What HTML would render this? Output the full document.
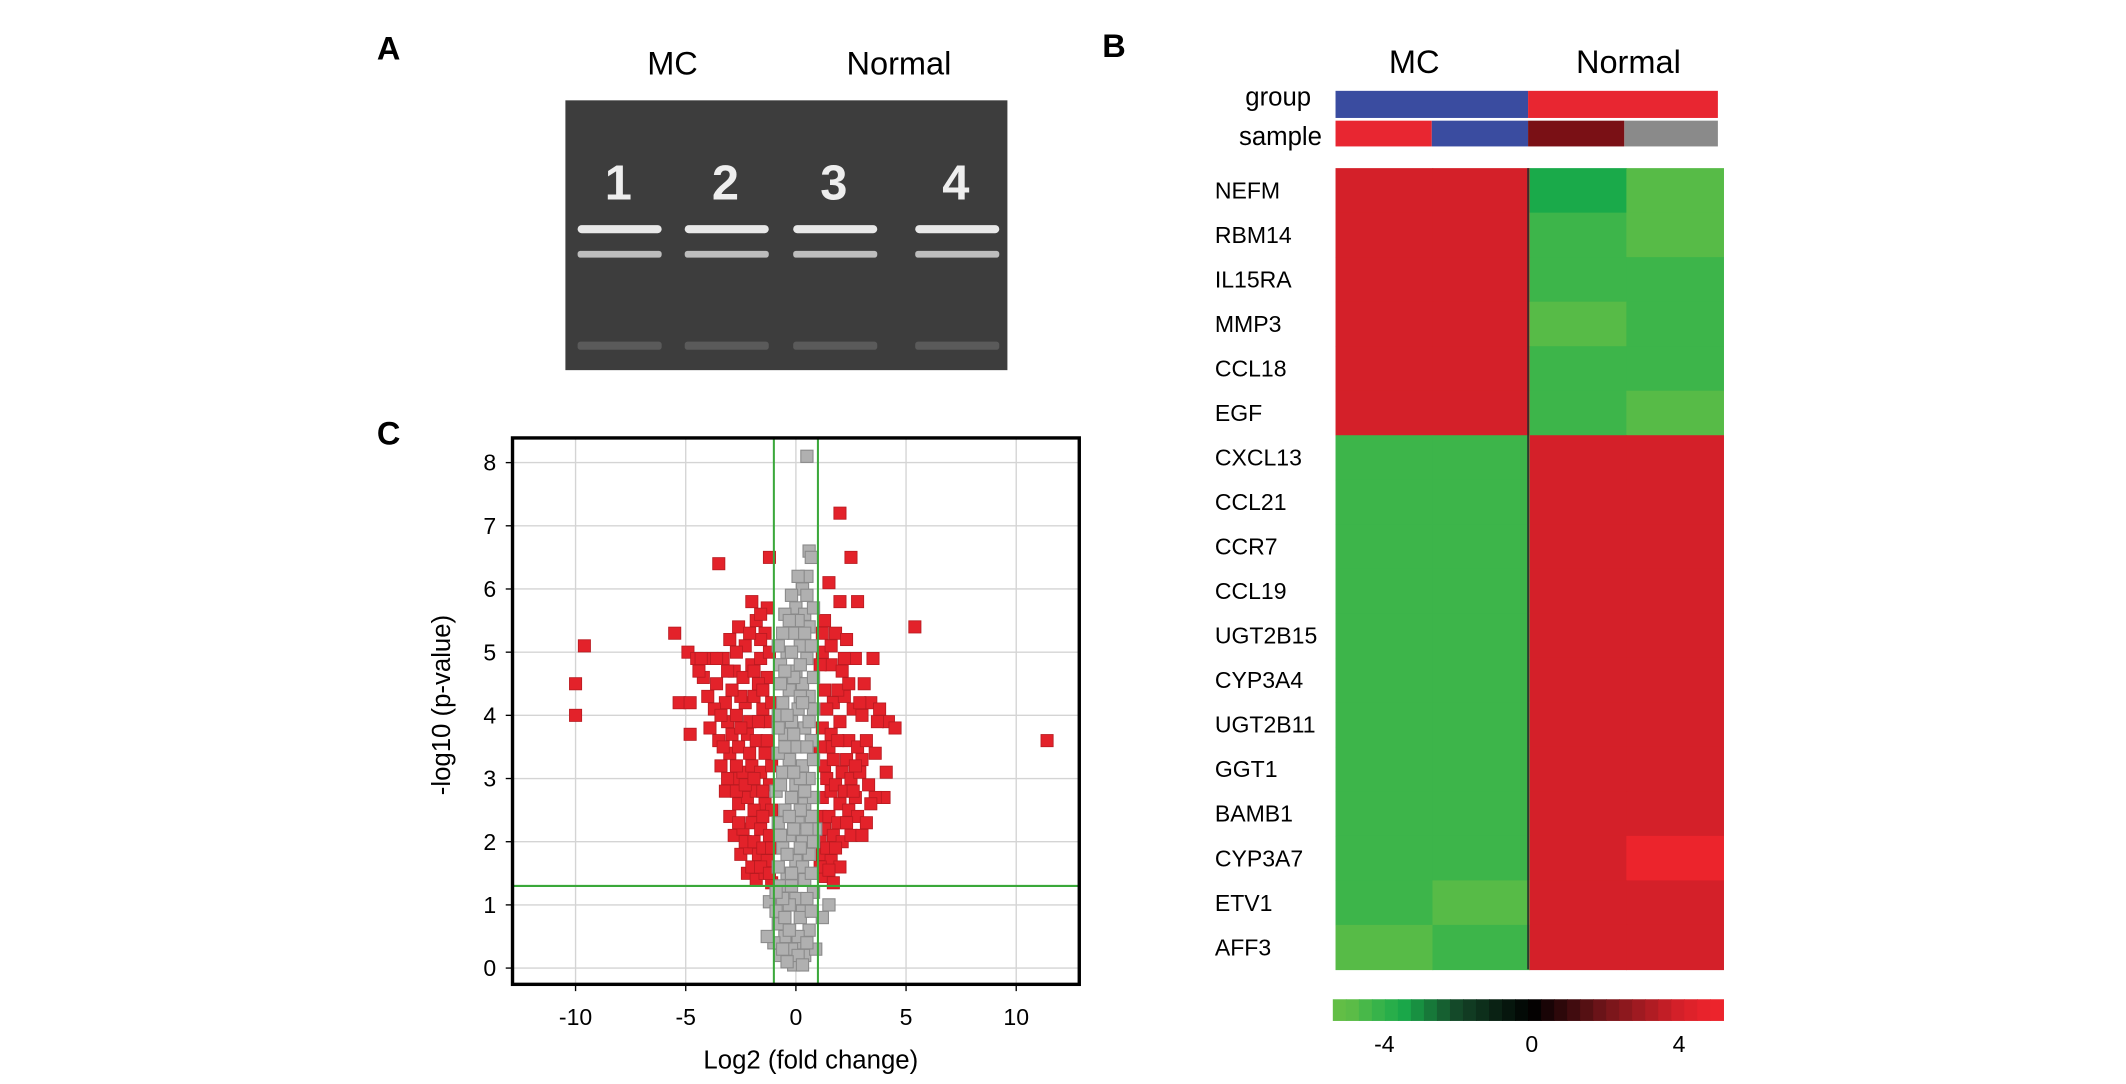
<!DOCTYPE html>
<html><head><meta charset="utf-8"><style>
html,body{margin:0;padding:0;background:#fff;}
svg{display:block;}
text{font-family:"Liberation Sans",sans-serif;}
</style></head><body>
<svg id="root" width="2126" height="1084" viewBox="0 0 1568 799.5" preserveAspectRatio="none" xmlns="http://www.w3.org/2000/svg">
<rect x="0" y="0" width="1568" height="800" fill="#fff"/>
<text x="278" y="44" font-family="Liberation Serif" font-weight="bold" font-size="24">A</text>
<text x="813" y="42" font-family="Liberation Serif" font-weight="bold" font-size="24">B</text>
<text x="278" y="328" font-family="Liberation Serif" font-weight="bold" font-size="24">C</text>

<g>
<text x="496" y="55" font-size="24" text-anchor="middle">MC</text>
<text x="663" y="55" font-size="24" text-anchor="middle">Normal</text>
<rect x="417" y="74" width="326" height="199" fill="#3d3d3d"/>
<g id="lanes"></g>
</g>

<g>
<text x="1043" y="54" font-size="24" text-anchor="middle">MC</text>
<text x="1201" y="54" font-size="24" text-anchor="middle">Normal</text>
<text x="967" y="78" font-size="19" text-anchor="end">group</text>
<text x="975" y="107" font-size="19" text-anchor="end">sample</text>
<rect x="985" y="67" width="142" height="20" fill="#3a4ca0"/>
<rect x="1127" y="67" width="140" height="20" fill="#e82631"/>
<rect x="985" y="89" width="71" height="19" fill="#e82631"/>
<rect x="1056" y="89" width="71" height="19" fill="#3a4ca0"/>
<rect x="1127" y="89" width="71" height="19" fill="#7a1015"/>
<rect x="1198" y="89" width="69" height="19" fill="#8a8a8a"/>
<g id="heat"></g>
<g id="cbar"></g>
</g>

<g>
<g id="volc"></g>
<text transform="translate(332,520) rotate(-90)" font-size="19" text-anchor="middle">-log10 (p-value)</text>
<text x="598" y="788" font-size="19" text-anchor="middle">Log2 (fold change)</text>
</g>
</svg>
<script>
const NS="http://www.w3.org/2000/svg";
function mk(tag,attrs,parent){const e=document.createElementNS(NS,tag);for(const k in attrs)e.setAttribute(k,attrs[k]);parent.appendChild(e);return e;}

// Gel
const laneLabels=["1","2","3","4"];
const laneX=[456,535,615,705];
const lanes=document.getElementById('lanes');
laneLabels.forEach((l,i)=>{
  const t=mk('text',{x:laneX[i],y:147,'font-family':'Liberation Serif','font-weight':'bold','font-size':36,'text-anchor':'middle',fill:'#eeeeee'},lanes);
  t.textContent=l;
  
  
  const b1=mk('rect',{x:laneX[i]-30,y:166,width:62,height:6,rx:3,fill:'#e8e8e8'},lanes);
  
  
  const b2=mk('rect',{x:laneX[i]-30,y:185,width:62,height:5,rx:2,fill:'#bdbdbd'},lanes);
  
  
  const b3=mk('rect',{x:laneX[i]-30,y:252,width:62,height:6,rx:2,fill:'#5a5a5a'},lanes);
  
  
});

// Heatmap
const genes=["NEFM","RBM14","IL15RA","MMP3","CCL18","EGF","CXCL13","CCL21","CCR7","CCL19","UGT2B15","CYP3A4","UGT2B11","GGT1","BAMB1","CYP3A7","ETV1","AFF3"];
const sample1=[4,4,4,4,4,4,-4.3,-4.3,-4.3,-4.3,-4.3,-4.3,-4.3,-4.3,-4.3,-4.3,-4.3,-4.8];
const sample2=[4,4,4,4,4,4,-4.3,-4.3,-4.3,-4.3,-4.3,-4.3,-4.3,-4.3,-4.3,-4.3,-4.8,-4.3];
const sample3=[-3.5,-4.3,-4.3,-4.8,-4.3,-4.3,4,4,4,4,4,4,4,4,4,4,4,4];
const sample4=[-4.8,-4.8,-4.3,-4.3,-4.3,-4.8,4,4,4,4,4,4,4,4,4,4.8,4,4];
function heatColor(v){
  if(v>=0){const t=Math.min(v/4.8,1);
    const stops=[[0,[0,0,0]],[0.4,[110,20,25]],[0.83,[212,32,41]],[1,[236,36,44]]];
    return interp(stops,t);}
  const t=Math.min(-v/5,1);
  const stops=[[0,[0,0,0]],[0.4,[20,70,40]],[0.7,[26,170,74]],[0.86,[61,181,74]],[1,[98,190,70]]];
  return interp(stops,t);
}
function interp(stops,t){for(let i=1;i<stops.length;i++){if(t<=stops[i][0]){const a=stops[i-1],b=stops[i];const f=(t-a[0])/(b[0]-a[0]);const c=a[1].map((x,j)=>Math.round(x+(b[1][j]-x)*f));return `rgb(${c})`;}}const c=stops[stops.length-1][1];return `rgb(${c})`;}
const heat=document.getElementById('heat');
const hx0=985,hx1=1271,hy0=124,hy1=715;
const cols=[sample1,sample2,sample3,sample4];
const cw=(hx1-hx0)/4,rh=(hy1-hy0)/genes.length;
genes.forEach((g,r)=>{
  const t=mk('text',{x:896,y:hy0+rh*r+rh/2+6,'font-size':17},heat);t.textContent=g;
  
  
  cols.forEach((col,c)=>{
    const cell=mk('rect',{x:hx0+cw*c,y:hy0+rh*r,width:cw+0.5,height:rh+0.5,fill:heatColor(col[r])},heat);
    
    
  });
});
mk('line',{x1:1127,x2:1127,y1:hy0,y2:hy1,stroke:'#2a2a2a','stroke-width':1.2},heat);

// colorbar
const cbTicks=[-4,0,4];
const cbar=document.getElementById('cbar');
const cbx0=983,cbx1=1271,cbMin=-5.4,cbMax=5.2;
const cbX=v=>cbx0+(v-cbMin)/(cbMax-cbMin)*(cbx1-cbx0);
const nSeg=30;
for(let i=0;i<nSeg;i++){const v=cbMin+(cbMax-cbMin)*(i+0.5)/nSeg;
  const s=mk('rect',{x:cbx0+(cbx1-cbx0)*i/nSeg,y:737,width:(cbx1-cbx0)/nSeg+0.5,height:16,fill:heatColor(v)},cbar);
  
  }
cbTicks.forEach(v=>{const t=mk('text',{x:cbX(v),y:776,'font-size':17,'text-anchor':'middle'},cbar);t.textContent=v;
  
  });

// Volcano
const xTicks=[-10,-5,0,5,10];
const yTicks=[0,1,2,3,4,5,6,7,8];
const fcCut=[-1,1];
const pCut=[1.3];
const redPts=[[-10,4.5],[-10,4],[-9.6,5.1],[-5.5,5.3],[-5.3,4.2],[-4.8,4.2],[-4.8,3.7],[-4.9,5],[-4.5,4.9],[-4.2,4.6],[-3.5,6.4],[-2,5.8],[-1.2,6.5],[-3.8,4.9],[-3.3,4.9],[-3,5.2],[-2.6,5.4],[-2.3,5.1],[-1.8,5.5],[-1.4,5.3],[-4,4.3],[-3.6,4.5],[-3.2,4.2],[-2.8,4.7],[-2.4,4.6],[-2,4.8],[-1.6,4.9],[-1.3,4.6],[-3.9,3.8],[-3.5,3.6],[-3.1,3.9],[-2.7,4],[-2.3,4.2],[-1.9,4.3],[-1.5,4.1],[-1.2,3.9],[-3.4,3.2],[-3,3.4],[-2.6,3.5],[-2.2,3.7],[-1.8,3.6],[-1.4,3.4],[-3.2,2.8],[-2.8,3],[-2.4,3.1],[-2,3.2],[-1.6,3.1],[-1.2,2.9],[-3,2.4],[-2.6,2.6],[-2.2,2.7],[-1.8,2.8],[-1.4,2.6],[-2.8,2.1],[-2.4,2.2],[-2,2.3],[-1.6,2.2],[-1.2,2.1],[-2.5,1.8],[-2.1,1.9],[-1.7,1.8],[-1.3,1.7],[-2.2,1.5],[-1.8,1.4],[-1.4,1.5],[-1.1,1.35],[-2.9,3.7],[-2.5,4.3],[-2.1,3.9],[-1.7,4.5],[-1.9,2.5],[-2.7,2.8],[-3.3,3.5],
[-4.3,4.9],[-3.7,4.1],[-3.4,4],[-2.9,4.4],[-2.5,3.8],[-2.1,3.4],[-1.7,3.9],[-1.3,3.6],[-3.1,3],[-2.7,3.2],[-2.3,2.9],[-1.9,3],[-1.5,2.8],[-1.1,2.5],[-2.6,2.3],[-2.3,2],[-1.9,2],[-1.5,1.9],[-1.1,1.9],[-2,1.6],[-1.6,1.6],[-1.2,1.5],[-1.5,2.4],[-1.1,3.2],[-1.1,4.2],[-1.5,4.4],[-1.9,4.7],[-1.2,5],[-1.6,5.2],[-2.1,5.3],[-2.7,5],[-3.1,4.7],[-3.6,4.9],[-4.4,4.7],[-1.3,5.7],[-1.6,5.6],
[2,7.2],[2.5,6.5],[1.5,6.1],[2,5.8],[2.8,5.8],[5.4,5.4],[11.4,3.6],[3.5,4.9],[4.2,3.9],[4.5,3.8],[4.1,3.1],[4,2.7],[3.6,2.7],[1.3,5.5],[1.8,5.3],[2.3,5.2],[1.2,5],[1.6,4.8],[2.1,4.7],[2.7,4.9],[3.1,4.5],[1.3,4.4],[1.7,4.2],[2.2,4.3],[2.6,4.1],[3,4],[3.4,4.2],[3.8,4.1],[1.2,3.8],[1.6,3.7],[2,3.9],[2.4,3.6],[2.8,3.5],[3.2,3.6],[3.6,3.4],[1.3,3.2],[1.7,3.3],[2.1,3.1],[2.5,3],[2.9,3.1],[3.3,2.9],[1.2,2.7],[1.6,2.8],[2,2.6],[2.4,2.5],[2.8,2.4],[3.2,2.3],[1.3,2.2],[1.7,2.1],[2.1,2],[2.5,2.1],[1.2,1.8],[1.6,1.7],[2,1.6],[1.3,1.45],[1.7,1.35],[3,3.3],[2.7,2.7],[3.4,2.6],
[1.1,4.8],[1.4,4.1],[1.9,4.4],[2.4,4.5],[2.9,4.2],[1.5,3.5],[1.9,3.6],[2.3,3.3],[2.7,3.2],[1.1,3.5],[1.4,3],[1.8,2.9],[2.2,2.8],[2.6,2.8],[1.1,2.4],[1.5,2.4],[1.9,2.3],[2.3,2.3],[1.1,2],[1.4,1.9],[1.8,1.9],[1.1,1.6],[1.5,1.55],[3,2.1],[1.2,5.3],[1.6,5.1],[2.2,4.9],[3.7,3.9]];
const greyPts=[[0.5,8.1],[0.6,6.6],[0.7,6.5],[0.5,6.2],[0.3,6],[-0.2,5.9],[0,5.7],[0.4,5.6],[-0.5,5.6],[0.6,5.4],[-0.1,5.3],[0.2,5.1],[-0.4,5],[0.5,4.9],[-0.7,4.8],[0,4.7],[0.3,4.5],[-0.3,4.4],[0.6,4.3],[-0.6,4.2],[0.1,4.1],[-0.2,3.9],[0.4,3.8],[-0.5,3.7],[0.7,3.6],[0,3.5],[-0.3,3.3],[0.3,3.2],[-0.6,3.1],[0.6,3],[0,2.9],[-0.2,2.7],[0.4,2.6],[-0.5,2.5],[0.7,2.4],[0.1,2.3],[-0.3,2.1],[0.3,2],[-0.6,1.9],[0.6,1.8],[0,1.7],[-0.4,1.5],[0.4,1.4],[-0.7,1.3],[0.8,1.2],[0,1.1],[-0.3,1],[0.3,0.9],[-1.2,1.05],[-0.9,0.9],[1.5,1],[1.2,0.8],[-0.8,0.7],[0.6,0.6],[-0.5,0.5],[0.2,0.4],[-0.2,0.3],[0.4,0.2],[0,0.1],[-0.1,0.05],[0.1,0.5],[-1,0.4],[-1.3,0.5],[0.9,0.3],[-0.7,0.2],[0.8,4.6],[-0.8,3.4],[0.9,2.2],[-0.9,2.8],[0.1,5.5],[-0.1,4.6],[0.2,3],[-0.1,2.2],
[-0.6,5.3],[0.7,5.1],[-0.3,5.5],[0.8,5.7],[-0.8,5.1],[0.5,5.9],[-0.7,4.5],[0.8,4.1],[-0.8,4],[0.2,4.3],[-0.4,4],[0.5,3.5],[-0.8,3.8],[0.8,3.3],[-0.7,2.9],[0.8,2.7],[0.2,2.5],[-0.8,2.3],[0.8,2],[-0.4,1.8],[0.3,1.6],[-0.8,1.6],[0.7,1.5],[-0.6,1.1],[0.5,1.1],[-0.2,1.3],[0.2,0.8],[-0.5,0.8],[0.7,0.9],[-0.9,1.2],[0.1,0.2],[-0.3,0.6],[0.5,0.4],[-0.6,0.3],[0.3,0.05],[-0.4,0.1],[0.2,1.9],[-0.2,1.5],[-0.1,3.1],[0.4,2.8],[-0.5,3.5],[0.6,3.9],[-0.1,3.7],[0.3,4.2],[-0.5,4.7],[0.4,5.3],[-0.2,5],[0.1,6.2],[0.2,4.8],[-0.3,2.4],[0.5,2.2],[-0.7,2.1]];
const volc=document.getElementById('volc');
const px0=378,px1=796,py0=323,py1=726;
const X=v=>587+v*16.25, Y=v=>714-v*46.6;
mk('rect',{x:px0,y:py0,width:px1-px0,height:py1-py0,fill:'#fff'},volc);
xTicks.forEach(v=>{const l=mk('line',{x1:X(v),x2:X(v),y1:py0,y2:py1,stroke:'#d4d4d4','stroke-width':1},volc);
  
  const t=mk('text',{x:X(v),y:756,'font-size':17,'text-anchor':'middle'},volc);t.textContent=v;
  
  mk('line',{x1:X(v),x2:X(v),y1:py1,y2:py1+5,stroke:'#000'},volc);});
yTicks.forEach(v=>{const l=mk('line',{x1:px0,x2:px1,y1:Y(v),y2:Y(v),stroke:'#d4d4d4','stroke-width':1},volc);
  
  const t=mk('text',{x:366,y:Y(v)+6,'font-size':17,'text-anchor':'end'},volc);t.textContent=v;
  
  mk('line',{x1:px0-5,x2:px0,y1:Y(v),y2:Y(v),stroke:'#000'},volc);});
const s=4.5;
redPts.forEach(p=>{const r=mk('rect',{x:X(p[0])-s,y:Y(p[1])-s,width:2*s,height:2*s,fill:'#e3222a',stroke:'#b81a20','stroke-width':0.6},volc);
  });
greyPts.forEach(p=>{const r=mk('rect',{x:X(p[0])-s,y:Y(p[1])-s,width:2*s,height:2*s,fill:'#b0b0b0',stroke:'#8a8a8a','stroke-width':0.8},volc);
  });
fcCut.forEach(v=>{const l=mk('line',{x1:X(v),x2:X(v),y1:py0,y2:py1,stroke:'#3aa83a','stroke-width':1.5},volc);
  });
pCut.forEach(v=>{const l=mk('line',{x1:px0,x2:px1,y1:Y(v),y2:Y(v),stroke:'#3aa83a','stroke-width':1.5},volc);
  });
const fr=mk('rect',{x:px0,y:py0,width:px1-px0,height:py1-py0,fill:'none',stroke:'#000','stroke-width':2.5},volc);

</script>
</body></html>
